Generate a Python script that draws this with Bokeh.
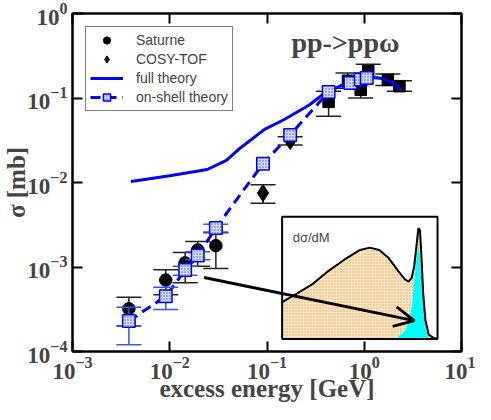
import math
from bokeh.plotting import figure
from bokeh.models import (Range1d, LinearScale, LogAxis, LogTicker, Legend, LegendItem,
                          Label, Arrow, OpenHead)
from bokeh.embed import file_html
from bokeh.resources import INLINE

# ---------------- data ----------------
# Saturne (circles)
sat_x = [0.0038, 0.0091, 0.0144, 0.0194, 0.0298]
sat_y = [3.2e-4, 7.0e-4, 1.12e-3, 1.59e-3, 1.79e-3]
sat_lo = [2.0e-4, 4.7e-4, 6.5e-4, 1.02e-3, 9.6e-4]
sat_hi = [4.4e-4, 9.3e-4, 1.48e-3, 2.0e-3, 2.55e-3]

# COSY-TOF (diamonds)
cosy_x = [0.091, 0.173]
cosy_y = [7.5e-3, 0.031]
cosy_lo = [5.7e-3, 0.0277]
cosy_hi = [9.4e-3, 0.0347]

# higher-energy data (black squares, no legend entry)
hie_x = [0.43, 0.68, 0.92, 1.10, 1.75, 2.30]
hie_y = [0.090, 0.160, 0.125, 0.208, 0.164, 0.138]
hie_lo = [0.061, 0.130, 0.100, 0.170, 0.141, 0.120]
hie_hi = [0.120, 0.197, 0.150, 0.250, 0.192, 0.160]

# full theory (solid line)
full_x = [0.0040, 0.0100, 0.0243, 0.0382, 0.0516, 0.0944, 0.149, 0.272, 0.367, 0.43,
          0.578, 0.80, 1.13, 1.43, 1.93, 2.42]
full_y = [0.0103, 0.0120, 0.01425, 0.0183, 0.0249, 0.0425, 0.0553, 0.0826, 0.1077, 0.118,
          0.1406, 0.160, 0.176, 0.173, 0.154, 0.123]

# on-shell theory (squares, dashed)
os_x = [0.0038, 0.0091, 0.0144, 0.0194, 0.0298, 0.091, 0.173, 0.43, 0.72, 0.92, 1.06]
os_y = [2.3e-4, 4.5e-4, 9.2e-4, 1.37e-3, 2.9e-3, 0.0167, 0.0366, 0.118, 0.150, 0.165, 0.173]
os_lo = [1.2e-4, 3.14e-4, 8.0e-4, 1.22e-3, 2.6e-3, None, None, None, None, None, None]
os_hi = [3.34e-4, 5.75e-4, 1.02e-3, 1.52e-3, 3.2e-3, None, None, None, None, None, None]

# inset: dsigma/dM (normalised mass axis and height)
inset_m = [0.0, 0.092, 0.195, 0.297, 0.400, 0.502, 0.564, 0.625, 0.686, 0.748, 0.789,
           0.814, 0.834, 0.850, 0.865, 0.877, 0.887, 0.896, 0.908, 0.922, 0.943, 0.973, 1.0]
inset_total = [0.301, 0.368, 0.448, 0.555, 0.648, 0.728, 0.747, 0.728, 0.661, 0.555, 0.488,
               0.469, 0.501, 0.595, 0.768, 0.907, 0.888, 0.688, 0.368, 0.155, 0.035, 0.008, 0.0]
peak_m = [0.727, 0.789, 0.820, 0.840, 0.857, 0.871, 0.879, 0.891, 0.906, 0.922, 0.943]
peak_v = [0.0, 0.061, 0.155, 0.315, 0.555, 0.741, 0.755, 0.635, 0.341, 0.101, 0.0]

X_RANGE = (1e-3, 10.0)
Y_RANGE = (1e-4, 1.0)
inset_box_x = (0.143, 5.67)      # inset frame in main-plot data coordinates
inset_box_y = (1.41e-4, 3.94e-3)
arrow_start = (0.0225, 7.5e-4)
arrow_end = (3.27, 2.32e-4)
title_pos = (0.64, 0.45)

# ---------------- figure ----------------
p = figure(width=475, height=404, x_axis_type="log", y_axis_type="log",
           x_range=Range1d(*X_RANGE), y_range=Range1d(*Y_RANGE),
           output_backend="svg", toolbar_location=None,
           min_border_left=61, min_border_right=14, min_border_top=13, min_border_bottom=53)
p.grid.visible = False
p.outline_line_color = "black"
p.outline_line_width = 2
p.background_fill_color = "white"

p.xaxis.axis_label = "excess energy [GeV]"
p.yaxis.axis_label = "σ [mb]"
for ax in (p.xaxis[0], p.yaxis[0]):
    ax.major_tick_in = 10
    ax.major_tick_out = 0
    ax.minor_tick_line_color = None
    ax.major_tick_line_width = 2
    ax.axis_line_width = 2
    ax.major_label_text_font = "Liberation Serif"
    ax.major_label_text_font_style = "bold"
    ax.major_label_text_font_size = "23px"
    ax.major_label_standoff = 1
    ax.axis_label_text_font = "Liberation Serif"
    ax.axis_label_text_font_style = "bold"
    ax.axis_label_text_font_size = "25px"
p.xaxis.axis_label_standoff = -7
p.yaxis.axis_label_standoff = -6

for side in ("above", "right"):
    ax = LogAxis(ticker=LogTicker())
    ax.major_tick_in = 10
    ax.major_tick_out = 0
    ax.minor_tick_line_color = None
    ax.major_tick_line_width = 2
    ax.axis_line_width = 2
    ax.major_label_text_font_size = "1px"
    ax.major_label_text_alpha = 0
    ax.major_label_standoff = 0
    p.add_layout(ax, side)

BLUE = "#0000ff"
EBLUE = "#3a55ee"

# black error bars
for xs, lo, hi in ((sat_x, sat_lo, sat_hi), (cosy_x, cosy_lo, cosy_hi), (hie_x, hie_lo, hie_hi)):
    p.segment(x0=xs, y0=lo, x1=xs, y1=hi, line_color="#222222", line_width=1.5)
    p.scatter(x=xs + xs, y=lo + hi, marker="dash", size=25, line_color="#222222", line_width=1.5)

r_sat = p.scatter(sat_x, sat_y, marker="circle", size=12.5, fill_color="black", line_color="black")
r_cosy = p.scatter(cosy_x, cosy_y, marker="diamond", size=17,
                   fill_color="black", line_color="black")
p.scatter(hie_x, hie_y, marker="square", size=11.5, fill_color="black", line_color="black")

r_full = p.line(full_x, full_y, line_color=BLUE, line_width=3)
r_osl = p.line(os_x, os_y, line_color=BLUE, line_width=3, line_dash="10 6")

ex = [x for x, l in zip(os_x, os_lo) if l is not None]
elo = [l for l in os_lo if l is not None]
ehi = [h for h in os_hi if h is not None]
p.segment(x0=ex, y0=elo, x1=ex, y1=ehi, line_color=EBLUE, line_width=1.5)
p.scatter(x=ex + ex, y=elo + ehi, marker="dash", size=25, line_color=EBLUE, line_width=1.5)

r_os = p.scatter(os_x, os_y, marker="square", size=12.5, fill_color="#d6ddff",
                 hatch_pattern="dot", hatch_color="#3355ff", hatch_scale=3, hatch_weight=1,
                 line_color=BLUE, line_width=1.5)

# ---------------- inset ----------------
def frac(v, rng):
    return (math.log10(v) - math.log10(rng[0])) / (math.log10(rng[1]) - math.log10(rng[0]))

fx0, fx1 = frac(inset_box_x[0], X_RANGE), frac(inset_box_x[1], X_RANGE)
fy0, fy1 = frac(inset_box_y[0], Y_RANGE), frac(inset_box_y[1], Y_RANGE)
p.extra_x_ranges = {"ix": Range1d(-fx0 / (fx1 - fx0), (1 - fx0) / (fx1 - fx0))}
p.extra_y_ranges = {"iy": Range1d(-fy0 / (fy1 - fy0), (1 - fy0) / (fy1 - fy0))}
p.extra_x_scales = {"ix": LinearScale()}
p.extra_y_scales = {"iy": LinearScale()}
IK = dict(x_range_name="ix", y_range_name="iy")

p.quad(left=0, right=1, bottom=0, top=1, fill_color="white", line_color=None, **IK)
p.varea(x=inset_m, y1=[0] * len(inset_m), y2=inset_total, fill_color="#fbe6c8",
        hatch_pattern="dot", hatch_color="#f0a24a", hatch_scale=3, hatch_weight=1, **IK)
p.varea(x=peak_m, y1=[0] * len(peak_m), y2=peak_v, fill_color="#00ffff", **IK)
p.line(inset_m, inset_total, line_color="black", line_width=2, **IK)
p.quad(left=0, right=1, bottom=0, top=1, fill_color=None, line_color="black", line_width=2, **IK)
p.add_layout(Label(x=0.068, y=0.83, text="dσ/dM", text_font="Liberation Sans",
                   text_font_size="13px", text_baseline="alphabetic", **IK))

p.add_layout(Arrow(end=OpenHead(size=20, line_width=3, line_color="black"),
                   x_start=arrow_start[0], y_start=arrow_start[1],
                   x_end=arrow_end[0], y_end=arrow_end[1],
                   line_width=3, line_color="black"))

p.add_layout(Label(x=title_pos[0], y=title_pos[1], text="pp->ppω",
                   text_font="Liberation Serif", text_font_style="bold", text_font_size="28px",
                   text_align="center", text_baseline="alphabetic"))

legend = Legend(items=[
    LegendItem(label="Saturne", renderers=[r_sat]),
    LegendItem(label="COSY-TOF", renderers=[r_cosy]),
    LegendItem(label="full theory", renderers=[r_full]),
    LegendItem(label="on-shell theory", renderers=[r_osl, r_os]),
], location="top_left", margin=13, padding=4, spacing=1, glyph_height=18, glyph_width=33,
    label_height=18, label_standoff=13, label_text_font="Liberation Sans",
    label_text_font_size="14px", border_line_color="black", border_line_width=1,
    background_fill_color="white", background_fill_alpha=1)
p.add_layout(legend)

open("out.html", "w").write(file_html(p, INLINE))
